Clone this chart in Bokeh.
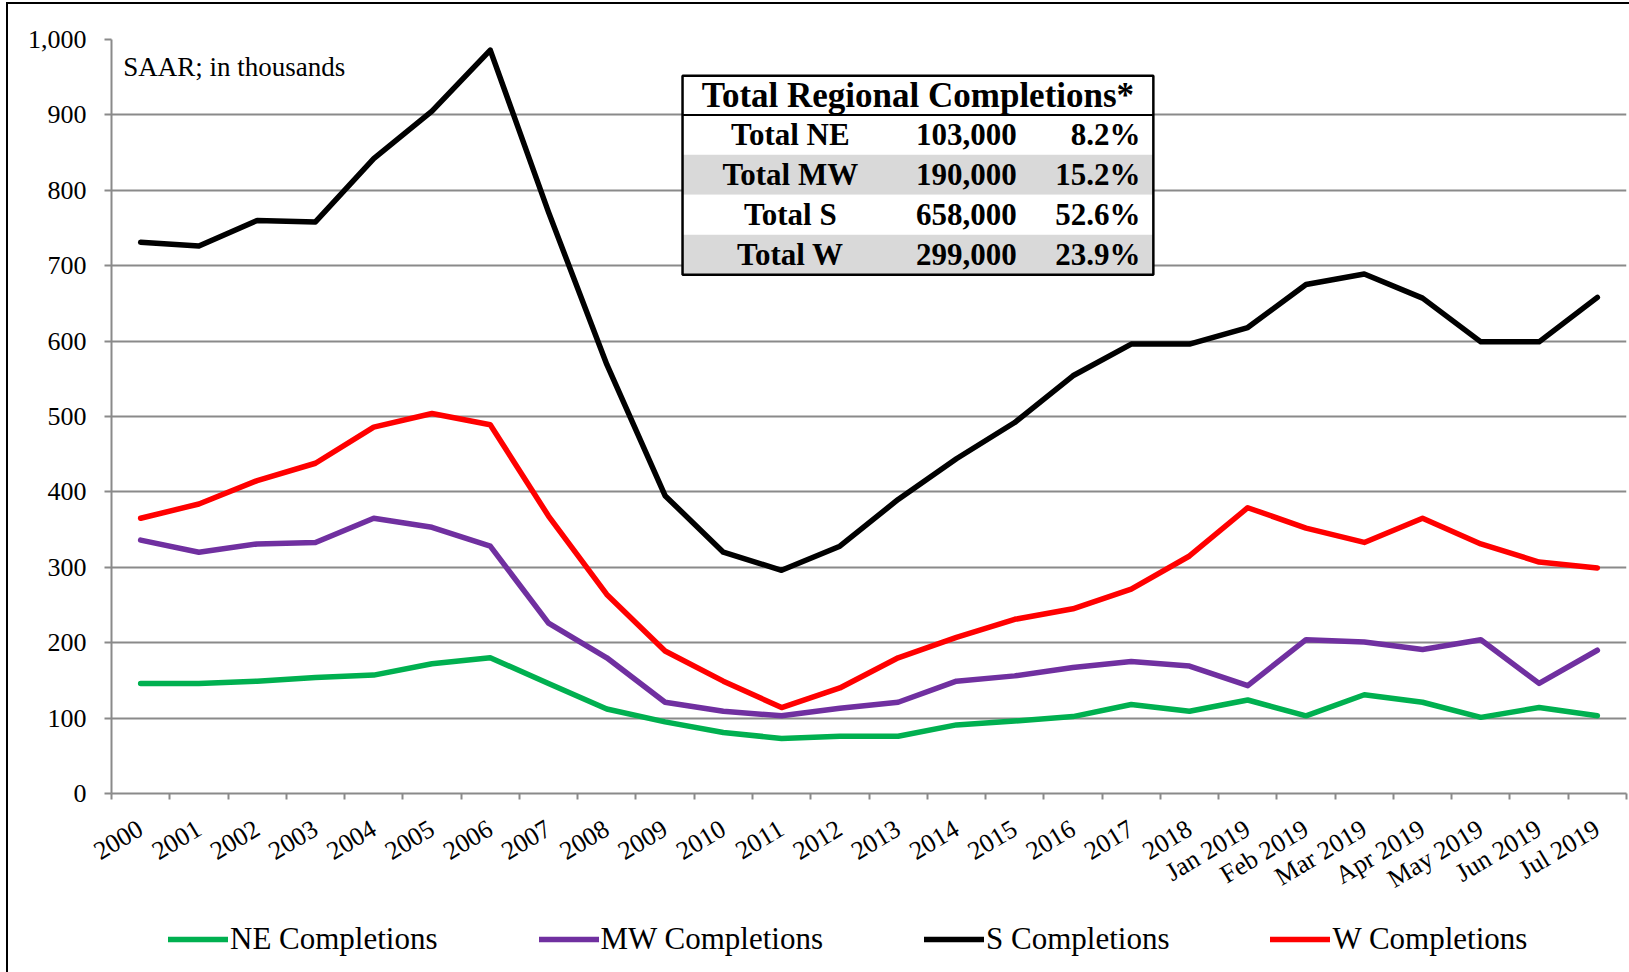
import math
from bokeh.plotting import figure
from bokeh.layouts import column
from bokeh.models import (Range1d, FixedTicker, LinearAxis, Legend, LegendItem,
                          NumeralTickFormatter, Label, Grid)
from bokeh.embed import file_html
from bokeh.resources import INLINE

# ---------------- data ----------------
categories = ["2000", "2001", "2002", "2003", "2004", "2005", "2006", "2007", "2008", "2009",
              "2010", "2011", "2012", "2013", "2014", "2015", "2016", "2017", "2018",
              "Jan 2019", "Feb 2019", "Mar 2019", "Apr 2019", "May 2019", "Jun 2019", "Jul 2019"]
ne_completions = [146, 146, 149, 154, 157, 172, 180, 146, 112, 95, 81, 73, 76, 76, 91, 96,
                  102, 118, 109, 124, 103, 131, 121, 101, 114, 103]
mw_completions = [336, 320, 331, 333, 365, 353, 328, 226, 180, 121, 109, 103, 113, 121, 149, 156,
                  167, 175, 169, 143, 204, 201, 191, 204, 146, 190]
s_completions = [731, 726, 760, 758, 842, 905, 986, 771, 569, 395, 320, 296, 328, 390, 444, 492,
                 554, 596, 596, 618, 675, 689, 657, 599, 599, 658]
w_completions = [365, 384, 415, 438, 486, 504, 489, 368, 264, 189, 149, 114, 140, 180, 207, 231,
                 245, 271, 315, 379, 352, 333, 365, 331, 307, 299]
y_ticks = [0, 100, 200, 300, 400, 500, 600, 700, 800, 900, 1000]

table_title = "Total Regional Completions*"
table_regions = ["Total NE", "Total MW", "Total S", "Total W"]
table_totals = ["103,000", "190,000", "658,000", "299,000"]
table_shares = ["8.2%", "15.2%", "52.6%", "23.9%"]

# ---------------- figure ----------------
SERIF = "Liberation Serif"
GRID = "#8a8a8a"
n = len(categories)
xpos = [i + 0.5 for i in range(n)]   # category centres on a 0..n axis

W_TOTAL = 1621
H_MAIN = 914
H_LEG = 54

p = figure(width=W_TOTAL, height=H_MAIN, output_backend="svg", toolbar_location=None,
           x_range=Range1d(0, n), y_range=Range1d(0, 1000),
           x_axis_location=None, y_axis_location=None,
           min_border_left=103, min_border_right=3, min_border_top=35, min_border_bottom=125)
p.outline_line_color = None
p.background_fill_color = "white"
p.border_fill_color = "white"
for g in p.grid:
    g.visible = False

# y axis + grid
yaxis = LinearAxis(ticker=FixedTicker(ticks=y_ticks), formatter=NumeralTickFormatter(format="0,0"))
yaxis.axis_line_color = GRID
yaxis.axis_line_width = 2
yaxis.major_tick_line_color = GRID
yaxis.major_tick_line_width = 2
yaxis.major_tick_in = 0
yaxis.major_tick_out = 7
yaxis.minor_tick_line_color = None
yaxis.major_label_text_font = SERIF
yaxis.major_label_text_font_size = "26px"
yaxis.major_label_text_color = "black"
yaxis.major_label_standoff = 18
p.add_layout(yaxis, "left")
p.add_layout(Grid(dimension=1, ticker=FixedTicker(ticks=y_ticks), grid_line_color=GRID,
                  grid_line_width=2))

# x axis with ticks between categories
xtick_axis = LinearAxis(ticker=FixedTicker(ticks=list(range(n + 1))))
xtick_axis.axis_line_color = GRID
xtick_axis.axis_line_width = 2
xtick_axis.major_tick_line_color = GRID
xtick_axis.major_tick_line_width = 2
xtick_axis.major_tick_in = 0
xtick_axis.major_tick_out = 6
xtick_axis.minor_tick_line_color = None
xtick_axis.major_label_text_font_size = "1px"
xtick_axis.major_label_text_alpha = 0
xtick_axis.major_label_standoff = 0
p.add_layout(xtick_axis, "below")

# category label axis (labels at category centres)
xlab_axis = LinearAxis(ticker=FixedTicker(ticks=xpos),
                       major_label_overrides={xv: lab for xv, lab in zip(xpos, categories)})
xlab_axis.axis_line_color = None
xlab_axis.major_tick_line_color = None
xlab_axis.minor_tick_line_color = None
xlab_axis.major_label_orientation = math.radians(31)
xlab_axis.major_label_text_font = SERIF
xlab_axis.major_label_text_font_size = "26px"
xlab_axis.major_label_text_color = "black"
xlab_axis.major_label_standoff = 21
p.add_layout(xlab_axis, "below")

# ---------------- series ----------------
series = [("NE Completions", ne_completions, "#00B050"),
          ("MW Completions", mw_completions, "#7030A0"),
          ("S Completions", s_completions, "#000000"),
          ("W Completions", w_completions, "#FF0000")]
for name, vals, color in series:
    p.line(xpos, vals, line_color=color, line_width=5.5, line_join="round", line_cap="round")

# note text
p.add_layout(Label(x=0.2, y=983, text="SAAR; in thousands",
                   text_font=SERIF, text_font_size="27px", text_baseline="top",
                   text_color="black"))

# ---------------- table annotation ----------------
t_left, t_right = 9.80, 17.88
t_top, t_head = 952, 900
row_h = 53
shade = "#D9D9D9"
row_tops = [t_head - i * row_h for i in range(len(table_regions))]
row_fill = ["white", shade, "white", shade]
p.quad(left=[t_left], right=[t_right], top=[t_top], bottom=[t_head],
       fill_color="white", line_color=None)
p.quad(left=[t_left] * len(row_tops), right=[t_right] * len(row_tops),
       top=row_tops, bottom=[t - row_h for t in row_tops],
       fill_color=row_fill, line_color=None)
p.segment(x0=[t_left], x1=[t_right], y0=[t_head], y1=[t_head],
          line_color="black", line_width=2)
p.quad(left=[t_left], right=[t_right], top=[t_top], bottom=[t_head - row_h * len(row_tops)],
       fill_color=None, line_color="black", line_width=2.5)

p.add_layout(Label(x=(t_left + t_right) / 2, y=(t_top + t_head) / 2,
                   text=table_title, text_font=SERIF, text_font_style="bold",
                   text_font_size="35px", text_align="center", text_baseline="middle",
                   text_color="black"))
for i in range(len(table_regions)):
    yc = row_tops[i] - row_h / 2
    p.add_layout(Label(x=11.65, y=yc, text=table_regions[i],
                       text_font=SERIF, text_font_style="bold", text_font_size="31px",
                       text_align="center", text_baseline="middle", text_color="black"))
    p.add_layout(Label(x=14.67, y=yc, text=table_totals[i],
                       text_font=SERIF, text_font_style="bold", text_font_size="31px",
                       text_align="center", text_baseline="middle", text_color="black"))
    p.add_layout(Label(x=17.66, y=yc, text=table_shares[i],
                       text_font=SERIF, text_font_style="bold", text_font_size="31px",
                       text_align="right", text_baseline="middle", text_color="black"))

# ---------------- legend strip (separate figure below) ----------------
pl = figure(width=W_TOTAL, height=H_LEG, output_backend="svg", toolbar_location=None,
            x_range=Range1d(0, n), y_range=Range1d(0, 1000),
            x_axis_location=None, y_axis_location=None,
            min_border_left=0, min_border_right=0, min_border_top=0, min_border_bottom=0)
pl.outline_line_color = None
pl.background_fill_color = "white"
pl.border_fill_color = "white"
for g in pl.grid:
    g.visible = False
items = []
for name, vals, color in series:
    r = pl.line(xpos, vals, line_color=color, line_width=5.5, line_cap="round", visible=False)
    items.append(LegendItem(label=name, renderers=[r]))
legend = Legend(items=items, location=(57, 15), orientation="horizontal",
                glyph_width=60, glyph_height=20, label_standoff=2, spacing=101,
                label_text_font=SERIF, label_text_font_size="31px", label_text_color="black",
                padding=0, margin=0, border_line_alpha=0, background_fill_alpha=0,
                inactive_fill_alpha=0)
pl.add_layout(legend, "center")

layout = column(p, pl, spacing=0)
layout.styles = {"outline": "2px solid black", "margin-left": "8px", "margin-top": "4px"}

html = file_html(layout, INLINE)
html = html.replace("<body>", '<body style="background-color:#f1f1f1;">', 1)
open("out.html", "w").write(html)
